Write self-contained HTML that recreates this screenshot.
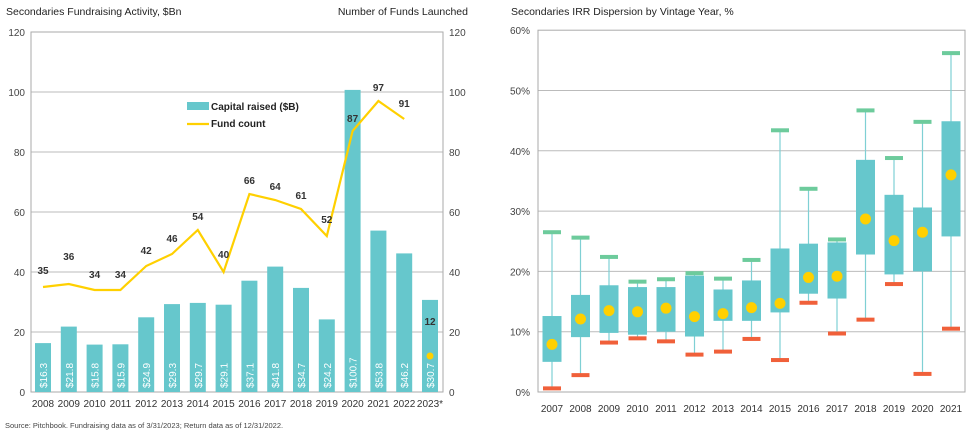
<!DOCTYPE html>
<html><head><meta charset="utf-8"><style>
body{margin:0;background:#fff;}
svg{display:block;font-family:"Liberation Sans",Arial,sans-serif;}
</style></head><body>
<svg id="s" width="974" height="433" viewBox="0 0 974 433" xmlns="http://www.w3.org/2000/svg"></svg>
<script>
var s=document.getElementById('s'),h='';
function T(x,y,t,o){h+='<text x="'+x+'" y="'+y+'" '+(o||'')+'>'+t+'</text>';}
// LEFT
T(6,15,'Secondaries Fundraising Activity, $Bn','fill="#222" style="font-size:10.5px"');
T(468,15,'Number of Funds Launched','text-anchor="end" fill="#222" style="font-size:10.5px"');
var L=31,R=443,Y0=392,k=3;
for(var v=0;v<=120;v+=20){var y=Y0-v*k;
 if(v>0&&v<120)h+='<line x1="'+L+'" x2="'+R+'" y1="'+y+'" y2="'+y+'" stroke="#bbb" stroke-width="1"/>';
 T(25,y+4,v,'text-anchor="end" fill="#444" style="font-size:10px"');T(449,y+4,v,'fill="#444" style="font-size:10px"');}
h+='<rect x="'+L+'" y="32" width="'+(R-L)+'" height="360" fill="none" stroke="#aaa"/>';
var cap=[16.3,21.8,15.8,15.9,24.9,29.3,29.7,29.1,37.1,41.8,34.7,24.2,100.7,53.8,46.2,30.7];
var fc=[35,36,34,34,42,46,54,40,66,64,61,52,87,97,91];
var yrs=['2008','2009','2010','2011','2012','2013','2014','2015','2016','2017','2018','2019','2020','2021','2022','2023*'];
function cx(i){return 43+i*25.8;}
cap.forEach(function(c,i){var x=cx(i),y=Y0-c*k;
 h+='<rect x="'+(x-8)+'" y="'+y+'" width="16" height="'+(c*k)+'" fill="#66c7cc"/>';
 h+='<text transform="translate('+(x+4)+','+(Y0-4)+') rotate(-90)" fill="#fff" style="font-size:10px">$'+c.toFixed(1)+'</text>';
 T(x,407,yrs[i],'text-anchor="middle" fill="#333" style="font-size:10px"');});
var p=fc.map(function(f,i){return cx(i)+','+(Y0-f*k);}).join(' ');
h+='<polyline points="'+p+'" fill="none" stroke="#ffd000" stroke-width="2.2"/>';
fc.forEach(function(f,i){var x=cx(i),y=Y0-f*k-10;
 if(i==0)y=Y0-f*k-13;if(i==1)y=Y0-f*k-24;if(i==2||i==3)y=Y0-f*k-12;if(i==4||i==5)y=Y0-f*k-12;if(i==7)y=Y0-f*k-14;if(i==11)y=Y0-f*k-13;if(i==12)y=122;if(i==14)y=Y0-f*k-12;
 T(x,y,f,'text-anchor="middle" fill="#333" font-weight="bold" style="font-size:10px"');});
h+='<circle cx="'+cx(15)+'" cy="'+(Y0-12*k)+'" r="3.5" fill="#ffd000"/>';
T(cx(15),325,'12','text-anchor="middle" fill="#333" font-weight="bold" style="font-size:10px"');
h+='<rect x="187" y="102" width="22" height="8" fill="#66c7cc"/>';
T(211,110,'Capital raised ($B)','fill="#222" font-weight="bold" style="font-size:10px"');
h+='<line x1="187" x2="209" y1="124" y2="124" stroke="#ffd000" stroke-width="2.2"/>';
T(211,127,'Fund count','fill="#222" font-weight="bold" style="font-size:10px"');
T(5,428,'Source: Pitchbook. Fundraising data as of 3/31/2023; Return data as of 12/31/2022.','fill="#444" style="font-size:7.5px"');
// RIGHT
T(511,15,'Secondaries IRR Dispersion by Vintage Year, %','fill="#222" style="font-size:10.5px"');
var L2=538,R2=965,B=392,kk=6.03;
for(var v=0;v<=60;v+=10){var y=B-v*kk;
 if(v>0&&v<60)h+='<line x1="'+L2+'" x2="'+R2+'" y1="'+y+'" y2="'+y+'" stroke="#bbb"/>';
 T(530,y+4,v+'%','text-anchor="end" fill="#444" style="font-size:10px"');}
h+='<rect x="'+L2+'" y="'+(B-60*kk)+'" width="'+(R2-L2)+'" height="'+(60*kk)+'" fill="none" stroke="#aaa"/>';
var d=[[26.5,12.6,5.0,0.6,7.9],[25.6,16.1,9.1,2.8,12.1],[22.4,17.7,9.8,8.2,13.5],[18.3,17.4,9.5,8.9,13.3],[18.7,17.4,10.0,8.4,13.9],[19.7,19.3,9.2,6.2,12.5],[18.8,17.0,11.8,6.7,13.0],[21.9,18.5,11.8,8.8,14.0],[43.4,23.8,13.2,5.3,14.7],[33.7,24.6,16.3,14.8,19.0],[25.3,24.8,15.5,9.7,19.2],[46.7,38.5,22.8,12.0,28.7],[38.8,32.7,19.5,17.9,25.1],[44.8,30.6,20.0,3.0,26.5],[56.2,44.9,25.8,10.5,36.0]];
d.forEach(function(r,i){var x=552+i*28.5,Y=function(v){return B-v*kk;};
 h+='<line x1="'+x+'" x2="'+x+'" y1="'+Y(r[0])+'" y2="'+Y(r[3])+'" stroke="#7fd0d4" stroke-width="1.2"/>';
 h+='<rect x="'+(x-9.5)+'" y="'+Y(r[1])+'" width="19" height="'+(Y(r[2])-Y(r[1]))+'" fill="#66c7cc"/>';
 h+='<rect x="'+(x-9)+'" y="'+(Y(r[0])-2)+'" width="18" height="4" fill="#6dcb9c"/>';
 h+='<rect x="'+(x-9)+'" y="'+(Y(r[3])-2)+'" width="18" height="4" fill="#f0603a"/>';
 h+='<circle cx="'+x+'" cy="'+Y(r[4])+'" r="5.5" fill="#ffd000"/>';
 T(x,412,2007+i,'text-anchor="middle" fill="#333" style="font-size:10px"');});
s.innerHTML=h;
</script>
</body></html>
